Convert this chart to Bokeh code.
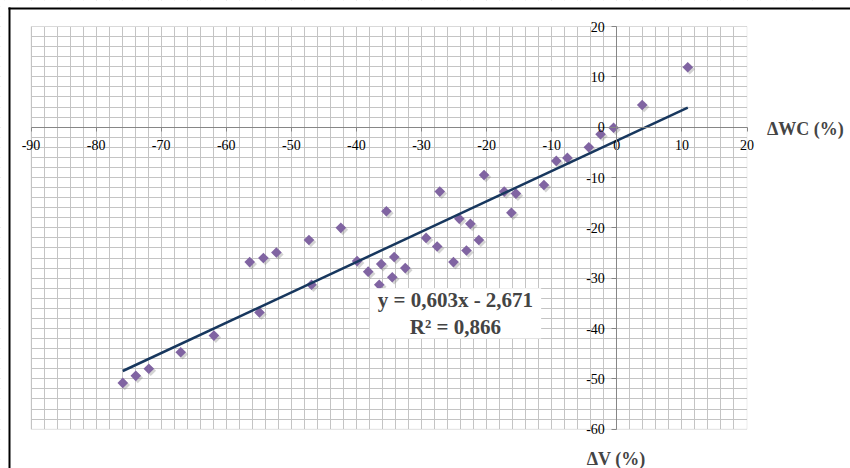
import numpy as np
from bokeh.plotting import figure
from bokeh.models import ColumnDataSource, SingleIntervalTicker, Label, BoxAnnotation, Range1d
from bokeh.transform import dodge
from bokeh.embed import file_html
from bokeh.resources import INLINE

# ---- data ----
dwc = [-75.9, -73.9, -71.9, -67.0, -61.9, -54.9, -56.4, -54.3, -52.3, -47.3,
       -46.9, -42.4, -39.9, -38.2, -36.2, -36.5, -35.4, -34.2, -34.5, -32.5,
       -29.3, -27.6, -27.2, -25.1, -24.2, -23.1, -22.5, -21.2, -20.4, -17.3,
       -16.2, -15.5, -11.2, -9.3, -7.6, -4.3, -2.5, -0.5, 3.9, 10.9]
dv = [-50.8, -49.4, -48.0, -44.7, -41.4, -36.8, -26.8, -26.0, -24.9, -22.4,
      -31.3, -20.0, -26.6, -28.7, -27.2, -31.3, -16.7, -25.8, -29.8, -28.0,
      -22.0, -23.7, -12.8, -26.8, -18.2, -24.5, -19.2, -22.4, -9.5, -12.8,
      -17.0, -13.2, -11.5, -6.7, -6.1, -4.0, -1.4, -0.1, 4.4, 11.9]
slope = 0.603
intercept = -2.671
eq_text = "y = 0,603x - 2,671\nR² = 0,866"
x_title = "ΔWC (%)"
y_title = "ΔV (%)"
x_ticks = [-90, -80, -70, -60, -50, -40, -30, -20, -10, 0, 10, 20]
x_tick_labels = ["-90", "-80", "-70", "-60", "-50", "-40", "-30", "-20", "-10", "0", "10", "20"]
y_ticks = [-60, -50, -40, -30, -20, -10, 0, 10, 20]
y_tick_labels = ["-60", "-50", "-40", "-30", "-20", "-10", "0", "10", "20"]

# ---- layout (pixels) ----
W, H = 850, 468
PX_L, PX_R, PX_T, PX_B = 30.5, 746.5, 26.0, 428.7
FONT = "Liberation Serif"
GRID = "#c4c4c4"
AXIS = "#868686"

x0, x1 = x_ticks[0], x_ticks[-1]
y0, y1 = y_ticks[0], y_ticks[-1]
sx = (PX_R - PX_L) / (x1 - x0)
sy = (PX_B - PX_T) / (y1 - y0)
xr = Range1d(x0 - PX_L / sx, x1 + (W - PX_R) / sx)
yr = Range1d(y0 - (H - PX_B) / sy, y1 + PX_T / sy)

p = figure(width=W, height=H, output_backend="svg", toolbar_location=None,
           x_range=xr, y_range=yr, min_border=0)
p.background_fill_color = "white"
p.border_fill_color = "white"
p.outline_line_color = None

xt = SingleIntervalTicker(interval=10, num_minor_ticks=5)
yt = SingleIntervalTicker(interval=10, num_minor_ticks=5)
p.xaxis.ticker = xt
p.yaxis.ticker = yt
p.xgrid.ticker = xt
p.ygrid.ticker = yt
p.xgrid.bounds = (x0 - 10, x1 + 10)
p.ygrid.bounds = (y0 - 10, y1 + 10)
for g in (p.xgrid, p.ygrid):
    g.grid_line_color = GRID
    g.minor_grid_line_color = GRID
    g.grid_line_width = 1
    g.minor_grid_line_width = 1
    g.level = "image"

# white masks outside the plotting area, then its outline
mask = dict(fill_color="white", fill_alpha=1, line_color=None, level="underlay")
p.add_layout(BoxAnnotation(right=x0, **mask))
p.add_layout(BoxAnnotation(left=x1, **mask))
p.add_layout(BoxAnnotation(top=y0, **mask))
p.add_layout(BoxAnnotation(bottom=y1, **mask))
p.add_layout(BoxAnnotation(left=x0, right=x1, bottom=y0, top=y1, fill_color=None,
                           fill_alpha=0, line_color=GRID, line_width=1, level="underlay"))

p.xaxis.fixed_location = 0
p.yaxis.fixed_location = 0
p.xaxis.bounds = (x0, x1)
p.yaxis.bounds = (y0, y1)
p.xaxis.major_label_overrides = dict(zip(x_ticks, x_tick_labels))
p.yaxis.major_label_overrides = dict(zip(y_ticks, y_tick_labels))
for ax in (p.xaxis, p.yaxis):
    ax.axis_line_color = AXIS
    ax.major_tick_line_color = AXIS
    ax.minor_tick_line_color = None
    ax.major_tick_in = 0
    ax.major_label_text_font = FONT
    ax.major_label_text_font_size = "14px"
    ax.major_label_text_color = "black"
p.xaxis.major_tick_out = 4
p.xaxis.major_label_standoff = 9
p.yaxis.major_tick_out = 5
p.yaxis.major_label_standoff = 7

src = ColumnDataSource(dict(x=dwc, y=dv))
p.scatter(x=dodge("x", 0.3), y=dodge("y", -0.4), source=src, marker="square",
          angle=np.pi / 4, size=7.5, fill_color="#808080", fill_alpha=0.35,
          line_color=None)
p.scatter("x", "y", source=src, marker="square", angle=np.pi / 4, size=7.5,
          fill_color="#8064A2", line_color=None)

tx = np.array([min(dwc), max(dwc)])
p.line(tx, slope * tx + intercept, line_color="#17375E", line_width=2.5)

p.add_layout(Label(x=-24.8, y=-37.0, text=eq_text, text_align="center",
                   text_baseline="middle", text_font=FONT, text_font_style="bold",
                   text_font_size="21px", text_line_height=1.1,
                   background_fill_color="white",
                   padding=dict(left=8, right=8, top=0, bottom=0)))
p.add_layout(Label(x=x1, y=0, x_offset=20, y_offset=-2, text=x_title,
                   text_baseline="middle", text_font=FONT, text_font_style="bold",
                   text_font_size="18px"))
p.add_layout(Label(x=0, y=y0, x_offset=-30, y_offset=-30, text=y_title,
                   text_baseline="middle", text_font=FONT, text_font_style="bold",
                   text_font_size="18px"))

# outer black chart border: left and top edges (the others lie outside the window)
bx0, bx1 = xr.start + 8 / sx, xr.start + 10 / sx
by0, by1 = yr.end - 9 / sy, yr.end - 7 / sy
border = dict(fill_color="black", fill_alpha=1, line_color=None, level="underlay")
p.add_layout(BoxAnnotation(left=bx0, right=bx1, top=by1, **border))
p.add_layout(BoxAnnotation(left=bx0, bottom=by0, top=by1, **border))

open("out.html", "w").write(file_html(p, INLINE))
